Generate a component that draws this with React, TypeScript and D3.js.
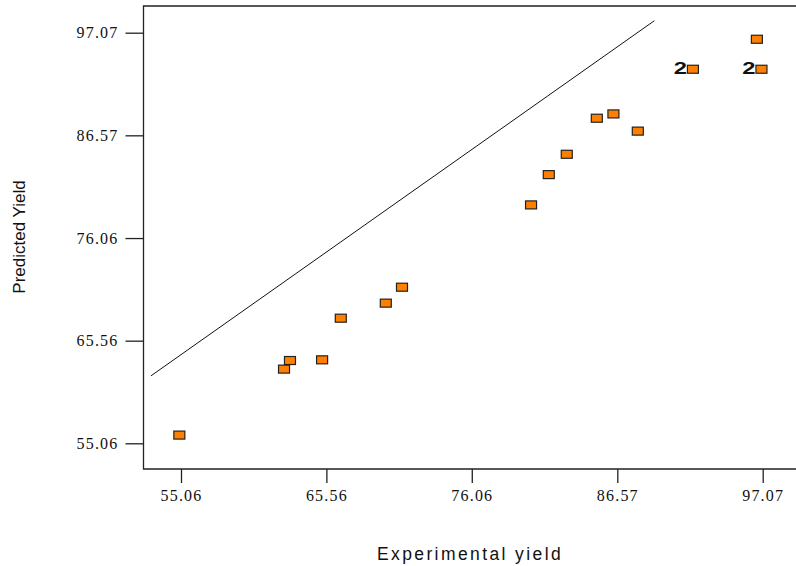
import React, { useEffect, useRef } from 'react';
import * as d3 from 'd3';

// experimental vs predicted yield (duplicates are stacked and labelled with a count)
const experimental = [54.94, 62.50, 62.93, 65.25, 66.60, 69.85, 71.02, 80.34, 81.62, 82.92, 85.09, 86.29, 88.05, 92.03, 92.03, 96.98, 96.98, 96.65];
const predicted = [55.90, 62.65, 63.53, 63.60, 67.86, 69.40, 71.03, 79.45, 82.55, 84.63, 88.32, 88.76, 87.00, 93.33, 93.33, 93.33, 93.33, 96.40];
const tickValues = [55.06, 65.56, 76.06, 86.57, 97.07];
// reference line endpoints
const refLineX = [52.89, 89.25];
const refLineY = [61.96, 98.3];

const W = 796, H = 566;

export default function App() {
    const ref = useRef<SVGSVGElement>(null);

    useEffect(() => {
        const svg = d3.select(ref.current);
        svg.selectAll('*').remove();

        const x = d3.scaleLinear().domain([55.06, 97.07]).range([181, 762.7]);
        const y = d3.scaleLinear().domain([55.06, 97.07]).range([443.3, 32.7]);
        const left = 143.5, top = 6, bottom = 469;

        // frame
        svg.append('path')
            .attr('d', `M${W},${top}H${left}V${bottom}H${W}`)
            .attr('fill', 'none')
            .attr('stroke', '#222')
            .attr('stroke-width', 1.3);

        // x axis
        const gx = svg.append('g')
            .attr('transform', `translate(0,${bottom})`)
            .call(d3.axisBottom(x).tickValues(tickValues).tickFormat(d3.format('.2f')).tickSize(14).tickPadding(7));
        gx.select('.domain').remove();

        // y axis
        const gy = svg.append('g')
            .attr('transform', `translate(${left},0)`)
            .call(d3.axisLeft(y).tickValues(tickValues).tickFormat(d3.format('.2f')).tickSize(18).tickPadding(7));
        gy.select('.domain').remove();

        svg.selectAll('.tick line').attr('stroke', '#222').attr('stroke-width', 1.3);
        svg.selectAll('.tick text')
            .attr('fill', '#111')
            .style('font-family', '"Liberation Serif", "Times New Roman", serif')
            .style('font-size', '16px')
            .style('letter-spacing', '1.2px');

        // reference line
        svg.append('line')
            .attr('x1', x(refLineX[0])).attr('y1', y(refLineY[0]))
            .attr('x2', x(refLineX[1])).attr('y2', y(refLineY[1]))
            .attr('stroke', '#111')
            .attr('stroke-width', 1);

        // group duplicates
        const pts = experimental.map((e, i) => ({ e, p: predicted[i] }));
        const groups = Array.from(d3.rollup(pts, v => v.length, d => d.e + '|' + d.p),
            ([k, n]) => ({ e: +k.split('|')[0], p: +k.split('|')[1], n }));

        svg.selectAll('rect.pt')
            .data(groups)
            .enter()
            .append('rect')
            .attr('class', 'pt')
            .attr('x', d => x(d.e) - 5.5)
            .attr('y', d => y(d.p) - 4)
            .attr('width', 11)
            .attr('height', 8)
            .attr('fill', '#FF8000')
            .attr('stroke', '#222')
            .attr('stroke-width', 1.2);

        svg.selectAll('text.cnt')
            .data(groups.filter(d => d.n > 1))
            .enter()
            .append('text')
            .attr('class', 'cnt')
            .attr('transform', d => `translate(${x(d.e) - 6},${y(d.p) + 4.5}) scale(1.4,1)`)
            .attr('text-anchor', 'end')
            .style('font-family', '"Liberation Sans", Arial, sans-serif')
            .style('font-weight', 'bold')
            .style('font-size', '17px')
            .attr('fill', '#111')
            .text(d => d.n);

        // axis titles
        svg.append('text')
            .attr('x', 470)
            .attr('y', 560)
            .attr('text-anchor', 'middle')
            .style('font-family', '"Liberation Sans", Arial, sans-serif')
            .style('font-size', '17.5px')
            .style('letter-spacing', '2.4px')
            .attr('fill', '#111')
            .text('Experimental yield');

        svg.append('text')
            .attr('transform', 'translate(25,237) rotate(-90)')
            .attr('text-anchor', 'middle')
            .style('font-family', '"Liberation Sans", Arial, sans-serif')
            .style('font-size', '17px')
            .attr('fill', '#111')
            .text('Predicted Yield');
    }, []);

    return (
        <svg ref={ref} width={W} height={H}
             style={{ position: 'absolute', left: 0, top: 0, background: '#fff' }} />
    );
}
